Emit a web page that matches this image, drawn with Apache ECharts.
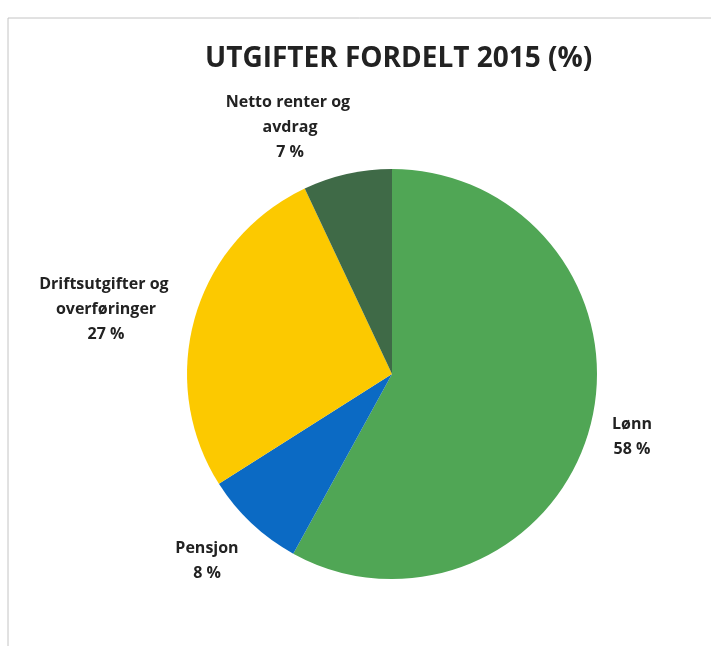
<!DOCTYPE html>
<html>
<head>
<meta charset="utf-8">
<script src="https://cdn.jsdelivr.net/npm/echarts@6/dist/echarts.min.js"></script>
<style>
  html, body { margin: 0; padding: 0; background: #fff; }
  #chart { width: 711px; height: 646px; }
</style>
</head>
<body>
<div id="chart"></div>
<script>
// data
const names = ['Lønn', 'Pensjon', 'Driftsutgifter og overføringer', 'Netto renter og avdrag'];
const values = [58, 8, 27, 7];
const colors = ['#50a655', '#0b6ac4', '#fcc900', '#3f6a47'];

// label centres (excel "best fit" placement)
const labelPos = [[632, 437], [207, 561], [106, 309], [290, 127]];

let pieData = [];
for (let i = 0; i < names.length; i++) {
  pieData.push({ name: names[i], value: values[i], itemStyle: { color: colors[i] } });
}

let chart = echarts.init(document.getElementById('chart'));
let option = {
  backgroundColor: '#fff',
  title: {
    text: 'UTGIFTER FORDELT 2015 (%)',
    left: 200,
    top: 40,
    textStyle: { fontFamily: 'Open Sans', fontWeight: 'bold', fontSize: 28, color: '#222' }
  },
  // scan frame
  graphic: [
    { type: 'line', shape: { x1: 8, y1: 18, x2: 711, y2: 18 }, style: { stroke: '#c4c4c4', lineWidth: 1 } },
    { type: 'line', shape: { x1: 8, y1: 18, x2: 8, y2: 646 }, style: { stroke: '#c4c4c4', lineWidth: 1 } }
  ],
  series: [
    {
      type: 'pie',
      center: [392, 374],
      radius: 205,
      startAngle: 90,
      clockwise: true,
      animation: false,
      label: {
        show: true,
        position: 'outside',
        formatter: '{b}\n{c} %',
        fontFamily: 'Open Sans',
        fontWeight: 'bold',
        fontSize: 16,
        lineHeight: 25,
        color: '#222',
        width: 165,
        overflow: 'break'
      },
      labelLine: { show: false },
      labelLayout: function (params) {
        let p = labelPos[params.dataIndex];
        return { x: p[0], y: p[1], align: 'center', verticalAlign: 'middle' };
      },
      data: pieData
    }
  ]
};
chart.setOption(option);
</script>
</body>
</html>
